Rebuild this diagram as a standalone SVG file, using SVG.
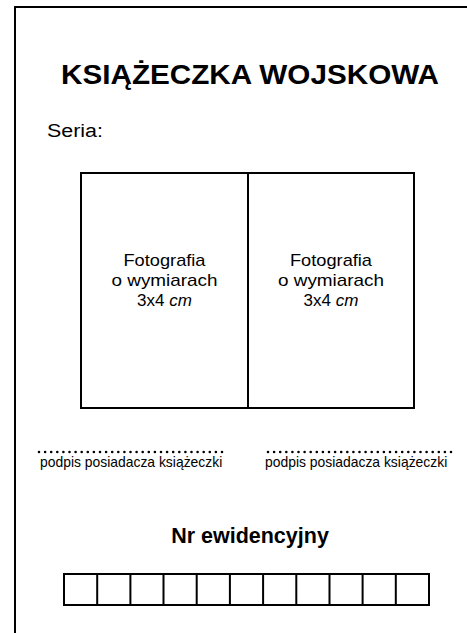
<svg xmlns="http://www.w3.org/2000/svg" width="467" height="633" viewBox="0 0 467 633">
<style>
.ln{fill:none;stroke:#000;stroke-width:2}
.dots{fill:none;stroke:#000;stroke-width:2.6;stroke-linecap:round;stroke-dasharray:0 6.1}
.t{font-family:"Liberation Sans",Arial,sans-serif;fill:#000}
.b{font-weight:bold}
.ph{font-size:17px;text-anchor:middle}
</style>
<rect width="467" height="633" fill="#fff"/>
<g id="page">
<path class="ln" d="M467,7 H15 V633"/>
</g>
<g id="title">
<text class="t b" x="250" y="84" font-size="27.5" text-anchor="middle" textLength="378" lengthAdjust="spacingAndGlyphs">KSIĄŻECZKA WOJSKOWA</text>
</g>
<g id="seria">
<text class="t" x="47" y="137" font-size="18" textLength="56" lengthAdjust="spacingAndGlyphs">Seria:</text>
</g>
<g id="photo1">
<rect class="ln" x="81" y="173" width="167" height="235"/>
<text class="t ph" x="164.5" y="266" textLength="82" lengthAdjust="spacingAndGlyphs">Fotografia</text>
<text class="t ph" x="164.5" y="286" textLength="106" lengthAdjust="spacingAndGlyphs">o wymiarach</text>
<text class="t ph" x="164.5" y="306">3x4 <tspan font-style="italic">cm</tspan></text>
</g>
<g id="photo2">
<rect class="ln" x="248" y="173" width="166" height="235"/>
<text class="t ph" x="331" y="266" textLength="82" lengthAdjust="spacingAndGlyphs">Fotografia</text>
<text class="t ph" x="331" y="286" textLength="106" lengthAdjust="spacingAndGlyphs">o wymiarach</text>
<text class="t ph" x="331" y="306">3x4 <tspan font-style="italic">cm</tspan></text>
</g>
<g id="sig1">
<path class="dots" d="M39,452 H222"/>
<text class="t" x="40" y="467" font-size="13.9">podpis posiadacza książeczki</text>
</g>
<g id="sig2">
<path class="dots" d="M268,452 H451"/>
<text class="t" x="265" y="467" font-size="13.9">podpis posiadacza książeczki</text>
</g>
<g id="nr">
<text class="t b" x="250" y="543" font-size="21.5" text-anchor="middle">Nr ewidencyjny</text>
<path class="ln" d="M64,574 H429 V605 H64 Z M97.2,574 V605 M130.4,574 V605 M163.5,574 V605 M196.7,574 V605 M229.9,574 V605 M263.1,574 V605 M296.3,574 V605 M329.5,574 V605 M362.6,574 V605 M395.8,574 V605"/>
</g>
</svg>
